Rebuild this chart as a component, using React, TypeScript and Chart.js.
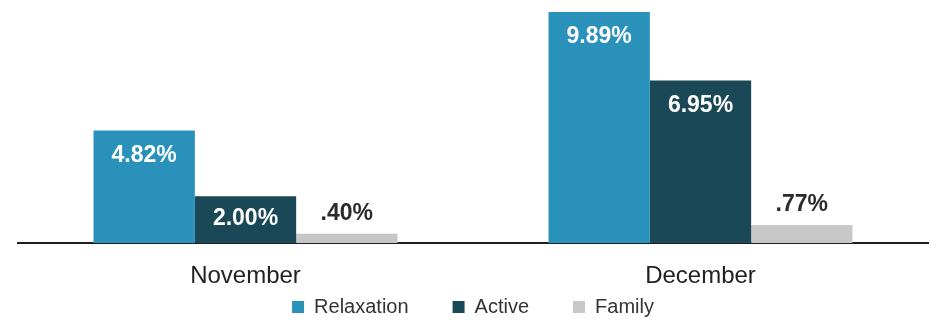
import React, { useEffect, useRef } from 'react';
import { Chart, registerables } from 'chart.js';

Chart.register(...registerables);

const categories = ['November', 'December'];
const seriesNames = ['Relaxation', 'Active', 'Family'];
const relaxation = [4.82, 9.89];
const active = [2.0, 6.95];
const family = [0.4, 0.77];
const seriesColors = ['#2a91bb', '#1b4857', '#c7c7c7'];

const FONT = '"Liberation Sans", Arial, Helvetica, sans-serif';

function fmt(v: number): string {
  const s = v.toFixed(2);
  return (s.startsWith('0') ? s.slice(1) : s) + '%';
}

const valueLabelPlugin = {
  id: 'valueLabels',
  afterDatasetsDraw(chart: any) {
    const ctx = chart.ctx;
    ctx.save();
    ctx.font = `bold 23px ${FONT}`;
    ctx.textAlign = 'center';
    ctx.textBaseline = 'middle';
    chart.data.datasets.forEach((ds: any, i: number) => {
      const meta = chart.getDatasetMeta(i);
      meta.data.forEach((bar: any, j: number) => {
        const v = ds.data[j] as number;
        const inside = i < 2;
        ctx.fillStyle = inside ? '#ffffff' : '#2b2b2b';
        const y = inside
          ? Math.min(bar.y + 25, (bar.y + bar.base) / 2 - 1)
          : bar.y - 20;
        ctx.fillText(fmt(v), bar.x, y);
      });
    });
    ctx.restore();
  },
};

export default function App() {
  const ref = useRef<HTMLCanvasElement | null>(null);

  useEffect(() => {
    if (!ref.current) return;
    const data = [relaxation, active, family];
    const chart = new Chart(ref.current, {
      type: 'bar',
      data: {
        labels: categories,
        datasets: seriesNames.map((name, i) => ({
          label: name,
          data: data[i],
          backgroundColor: seriesColors[i],
          borderWidth: 0,
          categoryPercentage: 0.668,
          barPercentage: 1,
        })),
      },
      options: {
        responsive: false,
        animation: false,
        devicePixelRatio: 1,
        layout: { padding: { left: 18, right: 3, top: 0, bottom: 0 } },
        plugins: {
          tooltip: { enabled: false },
          legend: {
            position: 'bottom',
            fullSize: false,
            maxHeight: 70,
            labels: {
              boxWidth: 12,
              boxHeight: 12,
              padding: 44,
              color: '#333333',
              font: { family: FONT, size: 20 },
            },
          },
        },
        scales: {
          x: {
            grid: { display: false, drawTicks: false },
            border: { display: true, color: '#1f1f1f', width: 2 },
            ticks: {
              color: '#222222',
              mirror: true,
              padding: -48,
              font: { family: FONT, size: 24 },
            },
            afterFit: (scale: any) => {
              scale.height = 10;
            },
          },
          y: {
            display: false,
            min: 0,
            max: 10.4,
          },
        },
      },
      plugins: [valueLabelPlugin],
    });
    return () => chart.destroy();
  }, []);

  return (
    <div style={{ position: 'fixed', left: 0, top: 0, width: 931, height: 323, background: '#fff' }}>
      <canvas ref={ref} width={931} height={323} />
    </div>
  );
}
